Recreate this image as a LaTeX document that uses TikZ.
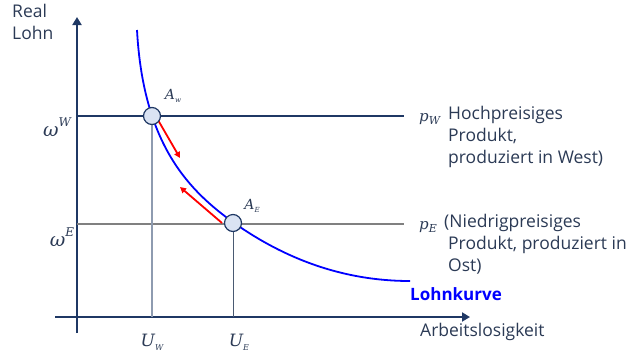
\documentclass[tikz,border=0pt]{standalone}
\usepackage{fontspec}
\setmainfont{Open Sans}
\newfontfamily\mfont{DejaVu Serif}
\usetikzlibrary{arrows.meta}
\definecolor{navy}{HTML}{1F3864}
\definecolor{txt}{HTML}{2B3A55}
\definecolor{ptfill}{HTML}{DAE3F3}
\definecolor{lgray}{HTML}{8E9BB0}
\definecolor{dgray}{HTML}{4A5A72}
\definecolor{hgray}{HTML}{808080}
\newcommand{\mysup}[2]{#1\raisebox{0.5em}{\fontsize{12}{12}\selectfont #2}}
\newcommand{\mysub}[3]{#1\raisebox{-0.25em}{\fontsize{#3}{#3}\selectfont #2}}
\tikzset{
  axis/.style={navy, line width=1.8pt, -{Triangle[width=9pt,length=8pt]}},
  pt/.style={circle, draw=navy, fill=ptfill, line width=1.2pt, minimum size=17pt, inner sep=0pt},
  lab/.style={text=txt, font=\fontsize{17.5}{22}\selectfont, inner sep=0pt},
  mlab/.style={text=txt, inner sep=0pt},
  mv/.style={red, line width=1.8pt, -{Triangle[width=6pt,length=6pt]}},
}
\begin{document}
\begin{tikzpicture}[x=1pt,y=-1pt]
\useasboundingbox (0,0) rectangle (628,354);
% axes
\coordinate (yb) at (77,333);
\coordinate (yt) at (77,17);
\coordinate (xl) at (55,317);
\coordinate (xr) at (470,317);
\draw[axis] (yb) -- (yt);
\draw[axis] (xl) -- (xr);
% price lines
\coordinate (wl) at (77,116);
\coordinate (wr) at (404,116);
\coordinate (el) at (77,224);
\coordinate (er) at (404,224);
\draw[navy, line width=2.2pt] (wl) -- (wr);
\draw[hgray, line width=2.2pt] (el) -- (er);
% vertical drop lines
\coordinate (uw) at (152,317);
\coordinate (ue) at (233,317);
\draw[lgray, line width=1.1pt] (152,116) -- (uw);
\draw[dgray, line width=0.9pt] (233,224) -- (ue);
% curve
\coordinate (c0) at (137,30);
\coordinate (c1) at (230,220);
\coordinate (c2) at (410,281);
\draw[blue, line width=1.8pt] (c0) .. controls (143,140) and (185,187) .. (c1)
  .. controls (270,249) and (330,281) .. (c2);
% red arrows
\coordinate (r1a) at (158,120);
\coordinate (r1b) at (180,158);
\coordinate (r2a) at (222,223);
\coordinate (r2b) at (180,187);
\draw[mv] (r1a) -- (r1b);
\draw[mv] (r2a) -- (r2b);
% points
\node[pt] (AW) at (152,116) {};
\node[pt] (AE) at (233,223) {};
\node[mlab, font=\mfont\itshape\fontsize{14}{16}\selectfont] (AWl) at (173,96) {\mysub{A}{w}{7}};
\node[mlab, font=\mfont\itshape\fontsize{14}{16}\selectfont] (AEl) at (252,206) {\mysub{A}{E}{7}};
% axis labels
\node[lab, align=left, anchor=north west] (yl) at (12,4) {Real\\Lohn};
\node[lab, anchor=west] (xlab) at (420,332) {Arbeitslosigkeit};
\node[mlab, font=\mfont\itshape\fontsize{19}{22}\selectfont] (ww) at (57,127) {\mysup{ω}{W}};
\node[mlab, font=\mfont\itshape\fontsize{19}{22}\selectfont] (we) at (62,237) {\mysup{ω}{E}};
\node[mlab, font=\mfont\itshape\fontsize{17}{22}\selectfont] (UW) at (152,342) {\mysub{U}{W}{8}};
\node[mlab, font=\mfont\itshape\fontsize{17}{22}\selectfont] (UE) at (239,342) {\mysub{U}{E}{8}};
% right labels
\node[mlab, font=\mfont\itshape\fontsize{15}{20}\selectfont, anchor=west] (pW) at (419,119) {\mysub{p}{W}{11}};
\node[lab, align=left, anchor=north west] (pWt) at (448,106) {Hochpreisiges\\Produkt,\\produziert in West)};
\node[mlab, font=\mfont\itshape\fontsize{15}{20}\selectfont, anchor=west] (pE) at (419,227) {\mysub{p}{E}{11}};
\node[lab, align=left, anchor=north west] (pEt) at (444,214) {(Niedrigpreisiges\\\hspace*{4pt}Produkt, produziert in\\\hspace*{4pt}Ost)};
\node[lab, text=blue, font=\fontsize{17}{21}\selectfont\bfseries, anchor=west] (lk) at (410,294) {Lohnkurve};
\end{tikzpicture}
\end{document}
